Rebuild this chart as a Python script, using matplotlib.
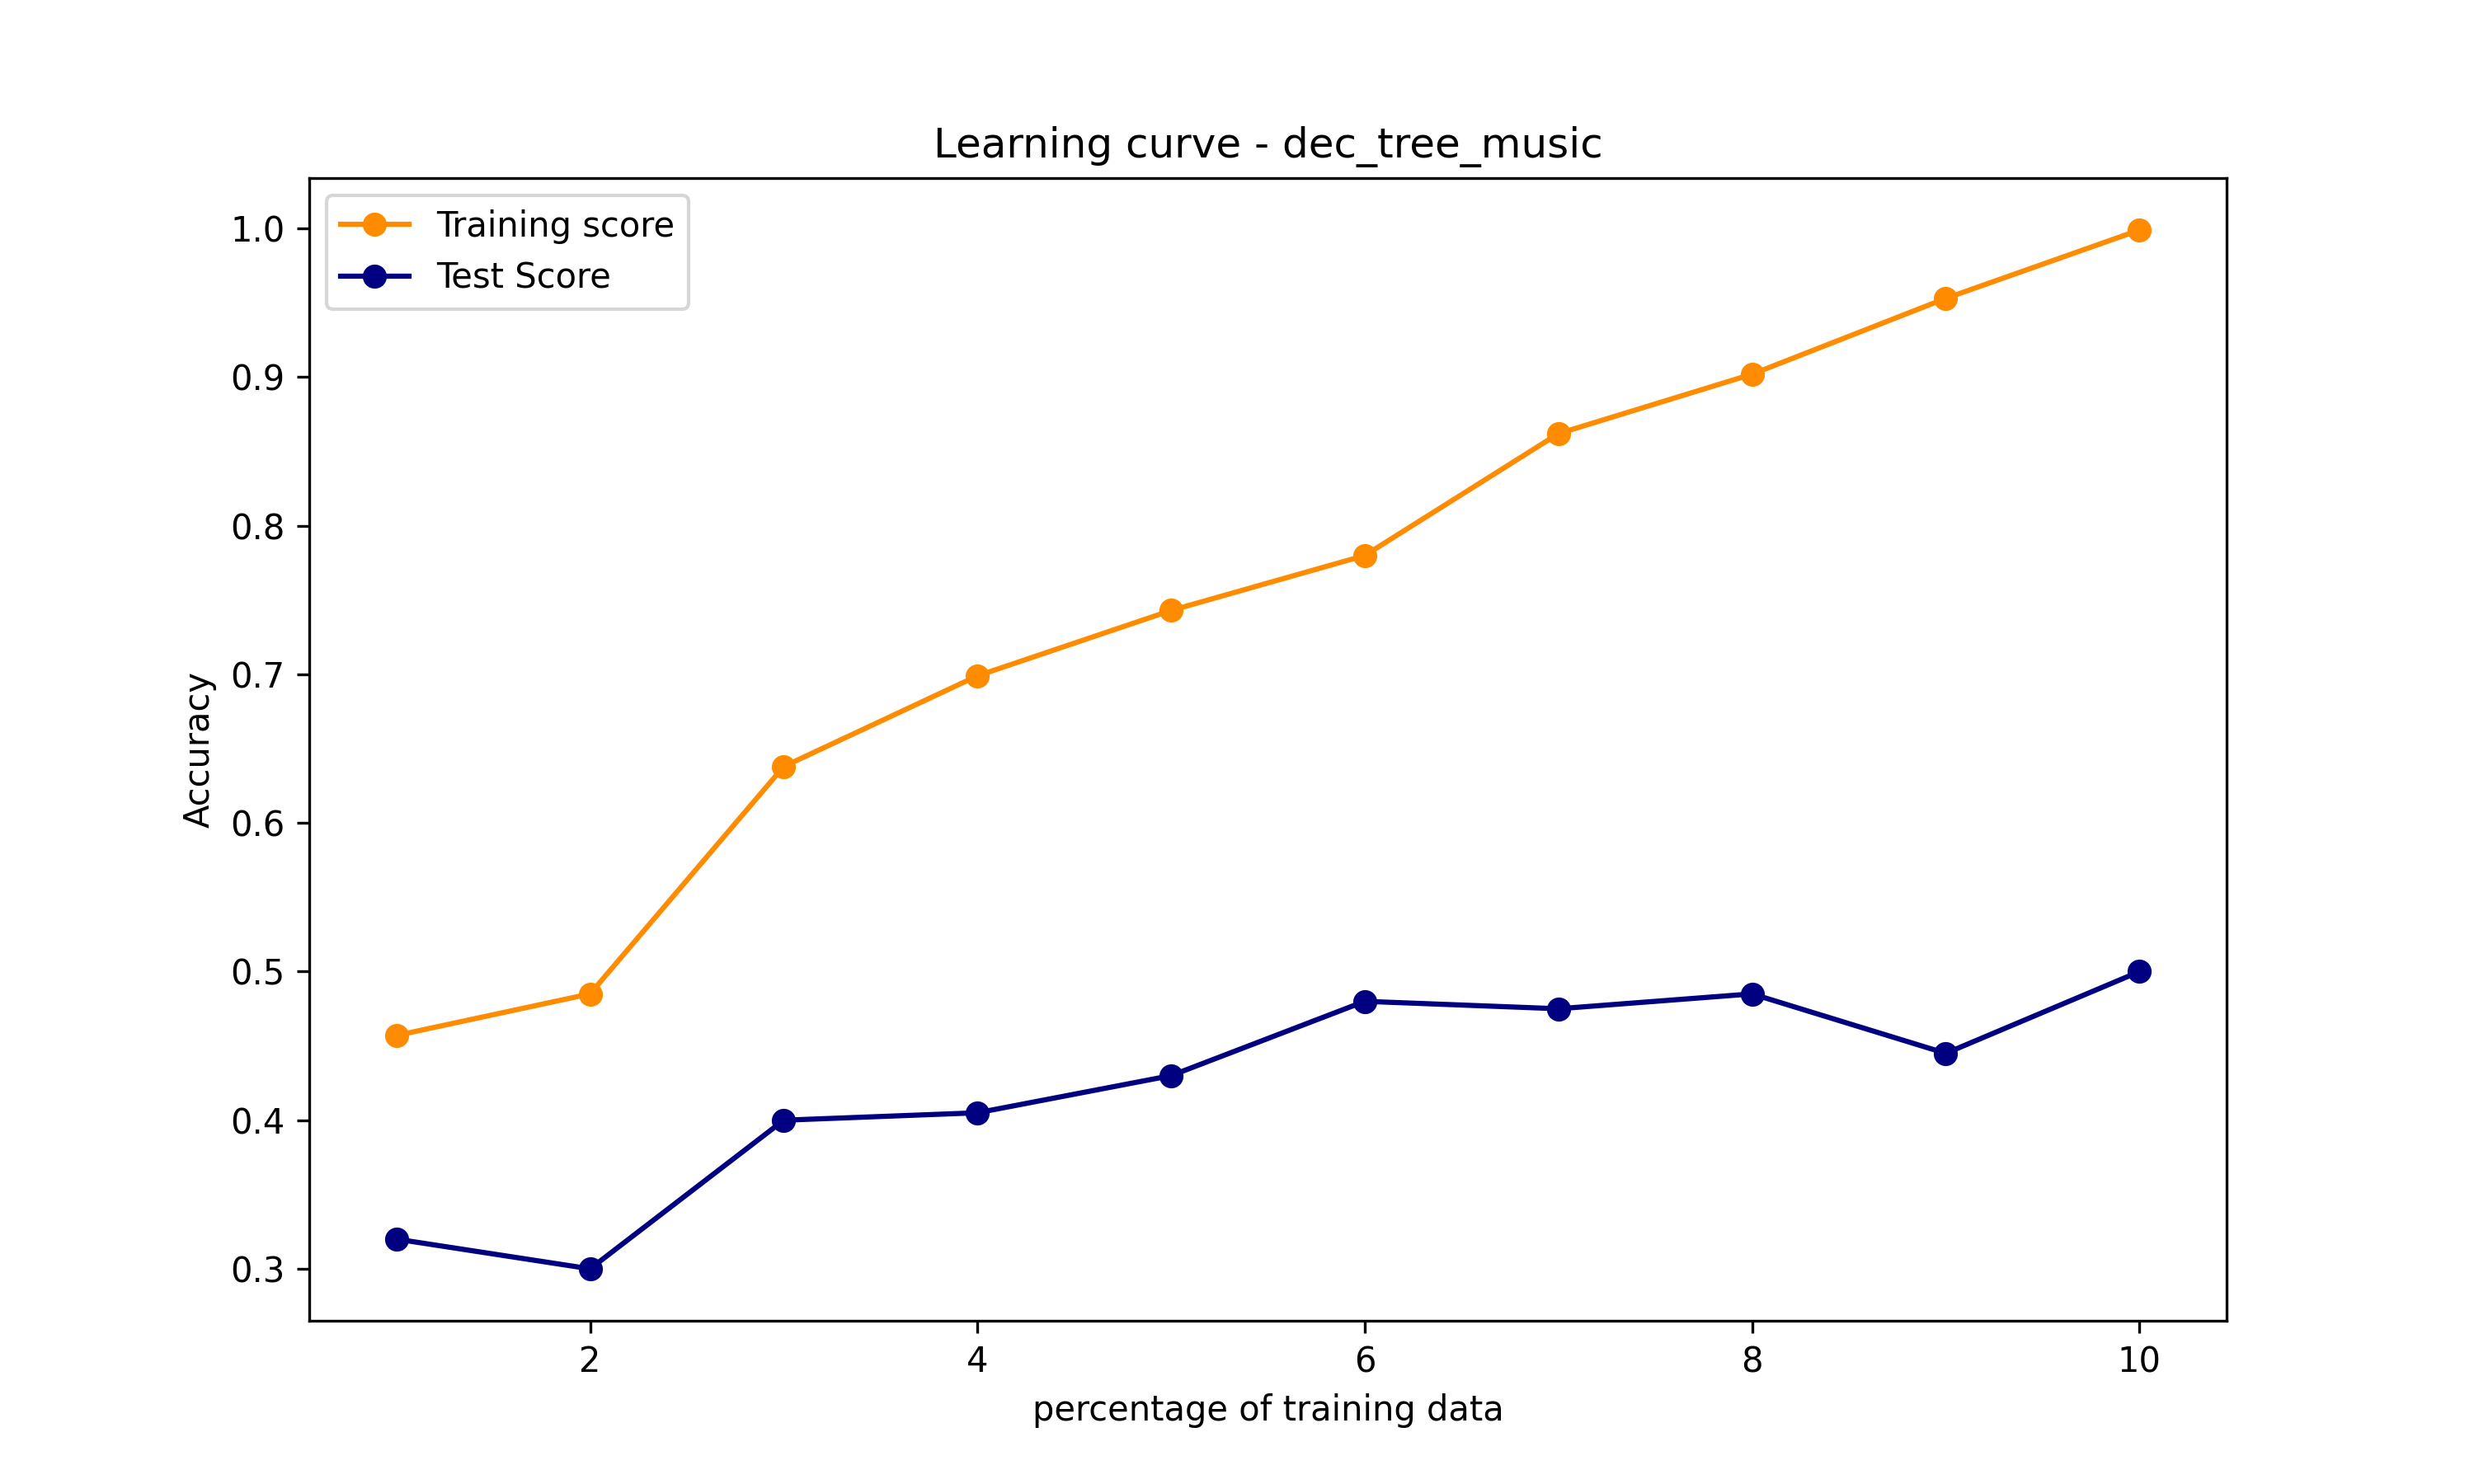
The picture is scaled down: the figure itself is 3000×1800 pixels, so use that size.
import matplotlib
matplotlib.use("Agg")
import matplotlib.pyplot as plt

pct = [1, 2, 3, 4, 5, 6, 7, 8, 9, 10]
train_score = [0.457, 0.485, 0.638, 0.699, 0.743, 0.780, 0.862, 0.902, 0.953, 0.999]
test_score = [0.320, 0.300, 0.400, 0.405, 0.430, 0.480, 0.475, 0.485, 0.445, 0.500]

fig, ax = plt.subplots(figsize=(10, 6))
ax.plot(pct, train_score, 'o-', color='darkorange', label='Training score')
ax.plot(pct, test_score, 'o-', color='navy', label='Test Score')
ax.set_title('Learning curve - dec_tree_music')
ax.set_xlabel('percentage of training data')
ax.set_ylabel('Accuracy')
ax.legend(loc='upper left')
fig.savefig('out.png', dpi=300)
